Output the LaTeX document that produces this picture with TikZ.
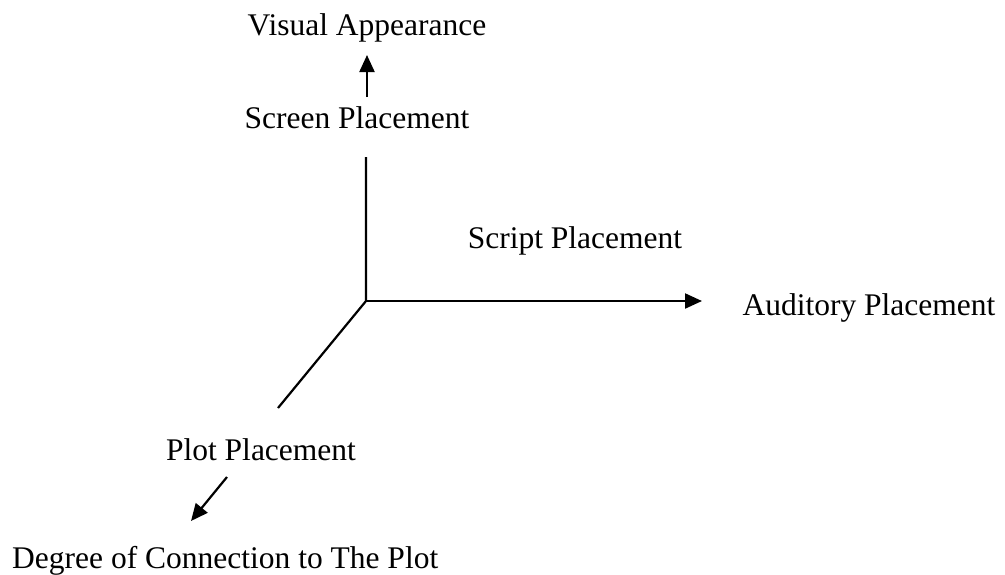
\documentclass[tikz,border=0pt]{standalone}
\usepackage{fontspec}
\setmainfont{Liberation Serif}
\usetikzlibrary{arrows.meta}
\tikzset{
  lbl/.style={anchor=base, inner sep=0pt, font=\fontsize{31.5}{36}\selectfont},
  axis/.style={line width=2.2pt},
  tip/.style={line width=2.2pt, -{Triangle[length=17pt, width=15pt]}}
}
\begin{document}
\begin{tikzpicture}[x=1pt, y=-1pt]
\useasboundingbox (0,0) rectangle (1005,574);
% labels
\node [lbl] (visual) at (367,35) {Visual Appearance};
\node [lbl] (screen) at (357,128) {Screen Placement};
\node [lbl] (script) at (575,248) {Script Placement};
\node [lbl] (audio) at (869,315) {Auditory Placement};
\node [lbl] (plot) at (261,460) {Plot Placement};
\node [lbl, anchor=base west] (degree) at (12,568) {Degree of Connection to The Plot};
% axes
\coordinate (o) at (366,301);
\coordinate (ztop) at (366,157);
\coordinate (xend) at (702,301);
\coordinate (yend) at (278,408);
\draw [axis] (ztop) -- (o) -- (yend);
\draw [tip] (o) -- (xend);
% short arrows
\coordinate (s1) at (367,97);
\coordinate (s2) at (367,55);
\draw [tip] (s1) -- (s2);
\coordinate (d1) at (227,477);
\coordinate (d2) at (191,521);
\draw [tip] (d1) -- (d2);
\end{tikzpicture}
\end{document}
